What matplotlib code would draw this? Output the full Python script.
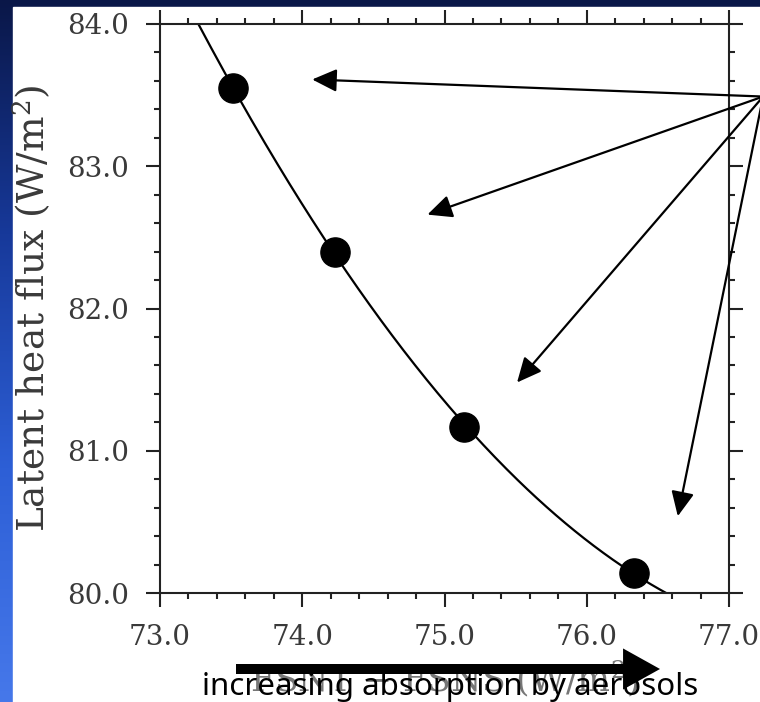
import numpy as np
import matplotlib.pyplot as plt
from matplotlib.colors import LinearSegmentedColormap
from matplotlib.ticker import MultipleLocator

plt.rcParams['font.family'] = 'DejaVu Serif'
plt.rcParams['mathtext.fontset'] = 'dejavuserif'

# data
fsnt_fsns = [73.51, 74.23, 75.14, 76.33]
lhflx = [83.55, 82.40, 81.17, 80.14]
# callout arrows (all start from one point right of the plot)
tip_x = [74.07, 74.88, 75.51, 76.64]
tip_y = [83.61, 82.66, 81.48, 80.54]
src_x, src_y = 77.24, 83.49
xticks = [73.0, 74.0, 75.0, 76.0, 77.0]
yticks = [80.0, 81.0, 82.0, 83.0, 84.0]

fig = plt.figure(figsize=(7.6, 7.02), dpi=100)

# slide background: blue gradient with a white panel on top
bg = fig.add_axes([0, 0, 1, 1])
bg.axis('off')
cmap = LinearSegmentedColormap.from_list('slide', ['#0a1748', '#17399a', '#2d5fd6', '#4678ea'])
grad = np.linspace(0, 1, 256).reshape(-1, 1)
bg.imshow(grad, aspect='auto', cmap=cmap, extent=[0, 1, 0, 1], origin='upper')
bg.add_patch(plt.Rectangle((13 / 760, 0), 1, 695 / 702, color='white'))
bg.set_xlim(0, 1)
bg.set_ylim(0, 1)

ax = fig.add_axes([160 / 760, 1 - 593 / 702, 569 / 760, 569 / 702])

# quadratic fit through the points
coef = np.polyfit(fsnt_fsns, lhflx, 2)
xs = np.linspace(73.0, 77.0, 300)
ax.plot(xs, np.polyval(coef, xs), color='k', lw=1.6)
ax.plot(fsnt_fsns, lhflx, 'o', color='k', ms=21)

ax.set_xlim(73, 77)
ax.set_ylim(80, 84)
ax.set_xticks(xticks)
ax.set_xticklabels(['%.1f' % v for v in xticks])
ax.set_yticks(yticks)
ax.set_yticklabels(['%.1f' % v for v in yticks])
ax.xaxis.set_minor_locator(MultipleLocator(0.2))
ax.yaxis.set_minor_locator(MultipleLocator(0.2))
ax.tick_params(which='both', direction='out', top=True, right=True,
               width=1.5, color='#222222', labelcolor='#3a3a3a', labelsize=20)
ax.tick_params(which='major', length=10, pad=12)
ax.tick_params(which='minor', length=4.5)
for s in ax.spines.values():
    s.set_linewidth(1.5)
    s.set_color('#222222')

ax.set_ylabel(r'Latent heat flux (W/m$^2$)', fontsize=27, color='#3a3a3a', labelpad=10)
ax.set_xlabel(r'FSNT $-$ FSNS (W/m$^2$)', fontsize=25, color='#777777', labelpad=6)

for tx, ty in zip(tip_x, tip_y):
    ax.annotate('', xy=(tx, ty), xytext=(src_x, src_y), annotation_clip=False,
                arrowprops=dict(arrowstyle='-|>,head_length=0.75,head_width=0.35',
                                mutation_scale=20, color='k', lw=1.6,
                                shrinkA=0, shrinkB=0))

# big arrow at the bottom
ax.annotate('', xy=(660, 702 - 669), xytext=(236, 702 - 669),
            xycoords='figure pixels', textcoords='figure pixels',
            arrowprops=dict(arrowstyle='simple,tail_width=0.36,head_width=1.48,head_length=1.33',
                            mutation_scale=20, fc='k', ec='none',
                            shrinkA=0, shrinkB=0))
fig.text(450 / 760, (702 - 687) / 702, 'increasing absorption by aerosols',
         ha='center', va='center', fontsize=22.5, family='Noto Sans', color='k')

fig.savefig('out.png', dpi=100)
